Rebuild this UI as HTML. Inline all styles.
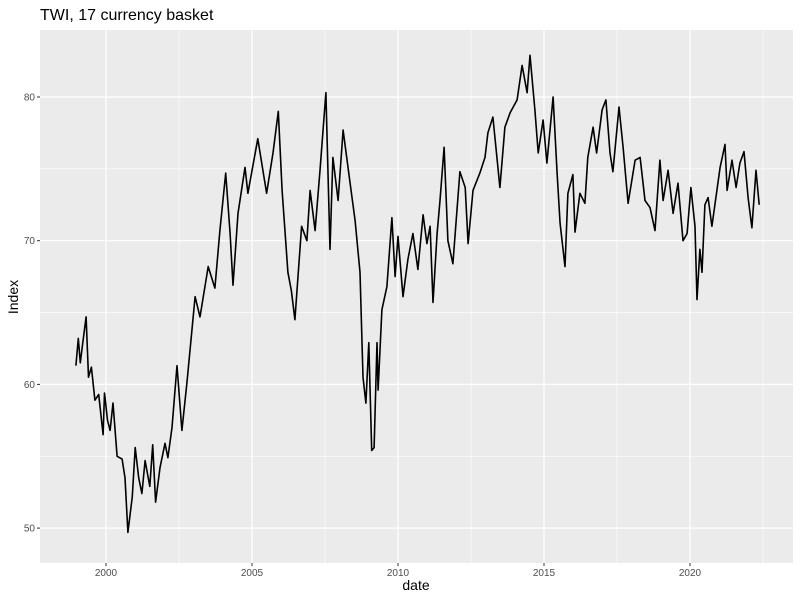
<!DOCTYPE html>
<html><head><meta charset="utf-8"><style>
body{margin:0;background:#fff;}
svg text{font-family:"Liberation Sans",sans-serif;}
</style></head><body>
<svg id="chart" width="800" height="600">
<text x="40" y="20" font-size="16" fill="#000">TWI, 17 currency basket</text>
<rect x="40" y="30" width="753" height="533" fill="#ebebeb"/>
<g id="grid"></g>
<g id="axes"></g>
<text x="416" y="590" font-size="14" text-anchor="middle" fill="#000">date</text>
<text transform="translate(18,297) rotate(-90)" font-size="14" text-anchor="middle" fill="#000">Index</text>
</svg>
<script>
const years=[1998.97,1999.05,1999.12,1999.2,1999.32,1999.4,1999.5,1999.62,1999.75,1999.9,1999.95,2000.05,2000.14,2000.24,2000.38,2000.55,2000.65,2000.75,2000.9,2001.0,2001.12,2001.23,2001.34,2001.5,2001.6,2001.7,2001.85,2002.02,2002.12,2002.26,2002.43,2002.6,2002.77,2003.05,2003.22,2003.5,2003.73,2003.9,2004.1,2004.25,2004.35,2004.52,2004.76,2004.86,2005.2,2005.5,2005.72,2005.9,2006.03,2006.23,2006.35,2006.47,2006.7,2006.88,2006.99,2007.16,2007.33,2007.53,2007.67,2007.77,2007.95,2008.12,2008.36,2008.53,2008.7,2008.8,2008.9,2009.0,2009.1,2009.18,2009.28,2009.32,2009.45,2009.62,2009.79,2009.9,2010.0,2010.17,2010.34,2010.51,2010.68,2010.86,2010.99,2011.1,2011.2,2011.34,2011.44,2011.58,2011.71,2011.88,2012.12,2012.3,2012.4,2012.57,2012.8,2012.98,2013.08,2013.25,2013.49,2013.66,2013.84,2014.08,2014.25,2014.42,2014.52,2014.69,2014.8,2014.97,2015.1,2015.31,2015.45,2015.55,2015.72,2015.82,2015.99,2016.06,2016.23,2016.4,2016.5,2016.68,2016.8,2016.99,2017.12,2017.26,2017.36,2017.57,2017.71,2017.88,2018.12,2018.29,2018.46,2018.63,2018.8,2018.97,2019.08,2019.25,2019.42,2019.59,2019.76,2019.9,2020.03,2020.17,2020.24,2020.34,2020.41,2020.51,2020.62,2020.75,2020.92,2021.03,2021.2,2021.27,2021.44,2021.58,2021.71,2021.85,2021.99,2022.12,2022.26,2022.37];
const values=[61.3,63.2,61.5,62.8,64.7,60.5,61.2,58.9,59.3,56.5,59.4,57.5,56.8,58.7,55,54.8,53.5,49.7,52.2,55.6,53.5,52.4,54.7,52.9,55.8,51.8,54.2,55.9,54.9,57.0,61.3,56.8,60.1,66.1,64.7,68.2,66.7,70.7,74.7,70.5,66.9,71.9,75.1,73.3,77.1,73.3,76.1,79.0,73.5,67.8,66.5,64.5,71.0,70.0,73.5,70.7,74.9,80.3,69.4,75.8,72.8,77.7,74.0,71.4,67.8,60.5,58.7,62.9,55.4,55.6,62.9,59.6,65.2,66.8,71.6,67.5,70.3,66.1,68.7,70.5,68.0,71.8,69.8,71.0,65.7,70.5,72.8,76.5,70.0,68.4,74.8,73.7,69.8,73.5,74.7,75.8,77.5,78.6,73.7,77.9,78.9,79.8,82.2,80.3,82.9,79.1,76.1,78.4,75.4,80.0,74.7,71.2,68.2,73.3,74.6,70.6,73.3,72.6,75.8,77.9,76.1,79.1,79.8,76.1,74.8,79.3,76.5,72.6,75.6,75.8,72.8,72.3,70.7,75.6,72.8,74.9,71.9,74.0,70.0,70.5,73.7,71.0,65.9,69.4,67.8,72.5,73.0,71.0,73.5,75.1,76.7,73.5,75.6,73.7,75.4,76.2,73.0,70.9,74.9,72.5];
const xTicks=[2000,2005,2010,2015,2020];
const yTicks=[50,60,70,80];
const xMinor=[2002.5,2007.5,2012.5,2017.5,2022.5];
const yMinor=[45,55,65,75];
const x=yr=>106+(yr-2000)*29.2;
const y=v=>97+(80-v)*14.37;
const NS='http://www.w3.org/2000/svg';
const grid=document.getElementById('grid'),axes=document.getElementById('axes');
function mk(tag,attrs,parent){const e=document.createElementNS(NS,tag);for(const k in attrs)e.setAttribute(k,attrs[k]);parent.appendChild(e);return e;}
yMinor.forEach(v=>{if(y(v)<30||y(v)>563)return;const l=mk('line',{x1:40,x2:793,y1:y(v),y2:y(v),stroke:'#fff','stroke-width':0.6},grid);

});
xMinor.forEach(v=>{if(x(v)>793)return;const l=mk('line',{x1:x(v),x2:x(v),y1:30,y2:563,stroke:'#fff','stroke-width':0.6},grid);

});
yTicks.forEach(v=>{const l=mk('line',{x1:40,x2:793,y1:y(v),y2:y(v),stroke:'#fff','stroke-width':1.2},grid);


const t=mk('line',{x1:37,x2:40,y1:y(v),y2:y(v),stroke:'#333','stroke-width':1},axes);


const tx=mk('text',{x:35,y:y(v)+3.5,'font-size':10,'text-anchor':'end',fill:'#4d4d4d'},axes);tx.textContent=v;

});
xTicks.forEach(v=>{const l=mk('line',{x1:x(v),x2:x(v),y1:30,y2:563,stroke:'#fff','stroke-width':1.2},grid);


const t=mk('line',{x1:x(v),x2:x(v),y1:563,y2:566,stroke:'#333','stroke-width':1},axes);


const tx=mk('text',{x:x(v),y:576,'font-size':10,'text-anchor':'middle',fill:'#4d4d4d'},axes);tx.textContent=v;

});
const d=years.map((yr,i)=>(i?'L':'M')+x(yr).toFixed(1)+','+y(values[i]).toFixed(1)).join('');
const p=mk('path',{d:d,fill:'none',stroke:'#000','stroke-width':1.6,'stroke-linejoin':'round'},document.getElementById('chart'));


</script>
</body></html>
